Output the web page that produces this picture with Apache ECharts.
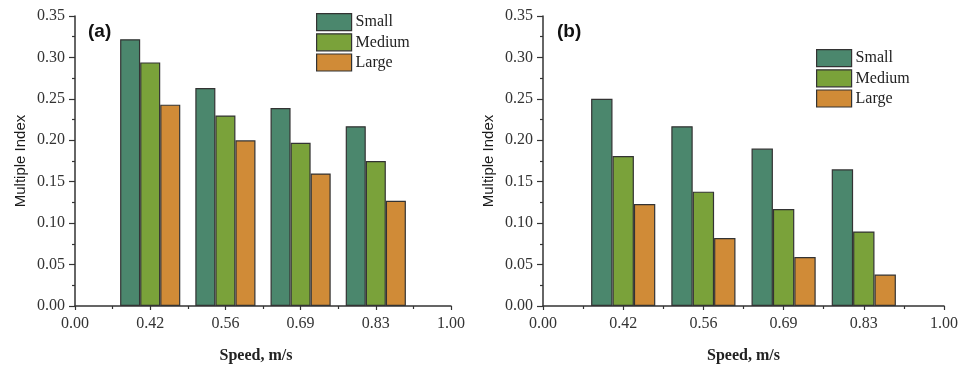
<!DOCTYPE html>
<html>
<head>
<meta charset="utf-8">
<script src="https://cdn.jsdelivr.net/npm/echarts@6/dist/echarts.min.js"></script>
<style>html,body{margin:0;padding:0;background:#fff}#c{width:961px;height:369px}</style>
</head>
<body>
<div id="c"></div>
<script>
var xTickLabels = ['0.00', '0.42', '0.56', '0.69', '0.83', '1.00'];
var speedPositions = [1, 2, 3, 4];
var seriesNames = ['Small', 'Medium', 'Large'];
// Panel (a)
var aSmall  = [0.322, 0.263, 0.239, 0.217];
var aMedium = [0.294, 0.230, 0.197, 0.175];
var aLarge  = [0.243, 0.200, 0.160, 0.127];
// Panel (b)
var bSmall  = [0.250, 0.217, 0.190, 0.165];
var bMedium = [0.181, 0.138, 0.117, 0.090];
var bLarge  = [0.123, 0.082, 0.059, 0.038];

var colors = ['#4b876d', '#7aa23a', '#d08b37'];
var serif = 'Liberation Serif';
var ink = '#333';

function pairs(vals) { return vals.map(function (v, i) { return [speedPositions[i], v]; }); }

function xAxisDef(gi) {
  return {
    type: 'value', gridIndex: gi, min: 0, max: 5, interval: 1,
    name: 'Speed, m/s', nameLocation: 'middle', nameGap: 42,
    nameTextStyle: { fontFamily: serif, fontSize: 16, fontWeight: 'bold', color: '#222', padding: gi === 0 ? [0, 14, 0, 0] : [0, 0, 0, 0] },
    axisLine: { show: true, lineStyle: { color: ink, width: 1.5 } },
    axisTick: { show: true, length: 4, lineStyle: { color: ink, width: 1.2 } },
    minorTick: { show: true, splitNumber: 2, length: 3, lineStyle: { color: ink, width: 1.2 } },
    axisLabel: { fontFamily: serif, fontSize: 16, color: ink, margin: 10,
      formatter: function (v) { return xTickLabels[Math.round(v)]; } },
    splitLine: { show: false }, minorSplitLine: { show: false }
  };
}
function yAxisDef(gi) {
  return {
    type: 'value', gridIndex: gi, min: 0, max: 0.35, interval: 0.05,
    name: 'Multiple Index', nameLocation: 'middle', nameGap: 47, nameRotate: 90,
    nameTextStyle: { fontFamily: 'Liberation Sans', fontSize: 15, color: '#1a1a1a' },
    axisLine: { show: true, lineStyle: { color: ink, width: 1.5 } },
    axisTick: { show: true, length: 6, lineStyle: { color: ink, width: 1.2 } },
    minorTick: { show: true, splitNumber: 2, length: 3, lineStyle: { color: ink, width: 1.2 } },
    axisLabel: { fontFamily: serif, fontSize: 16, color: ink, margin: 10,
      formatter: function (v) { return v.toFixed(2); } },
    splitLine: { show: false }, minorSplitLine: { show: false }
  };
}
function barSeries(name, vals, gi, ci) {
  return {
    type: 'bar', name: name, xAxisIndex: gi, yAxisIndex: gi,
    data: pairs(vals), barGap: '0%', barCategoryGap: '20%',
    itemStyle: { color: colors[ci], borderColor: ink, borderWidth: 1.2 },
    emphasis: { disabled: true }
  };
}
function legendDef(left, top) {
  return {
    data: seriesNames, orient: 'vertical', left: left, top: top, padding: 0,
    itemWidth: 35, itemHeight: 17, itemGap: 2, icon: 'rect',
    itemStyle: { borderColor: ink, borderWidth: 1.2 },
    textStyle: { fontFamily: serif, fontSize: 16, lineHeight: 17, color: '#222', padding: [0, 0, 0, -1] }
  };
}

var chart = echarts.init(document.getElementById('c'), null, { renderer: 'canvas' });
chart.setOption({
  backgroundColor: '#ffffff',
  animation: false,
  grid: [
    { left: 75, right: 510, top: 16, bottom: 63 },
    { left: 543, right: 17, top: 16, bottom: 61 }
  ],
  xAxis: [xAxisDef(0), xAxisDef(1)],
  yAxis: [yAxisDef(0), yAxisDef(1)],
  legend: [legendDef(316, 13), legendDef(816, 49)],
  series: [
    barSeries('Small', aSmall, 0, 0),
    barSeries('Medium', aMedium, 0, 1),
    barSeries('Large', aLarge, 0, 2),
    barSeries('Small', bSmall, 1, 0),
    barSeries('Medium', bMedium, 1, 1),
    barSeries('Large', bLarge, 1, 2)
  ],
  graphic: [
    { type: 'text', left: 88, top: 22, style: { text: '(a)', font: 'bold 19px "Liberation Sans"', fill: '#111' } },
    { type: 'text', left: 557, top: 22, style: { text: '(b)', font: 'bold 19px "Liberation Sans"', fill: '#111' } }
  ]
});
</script>
</body>
</html>
